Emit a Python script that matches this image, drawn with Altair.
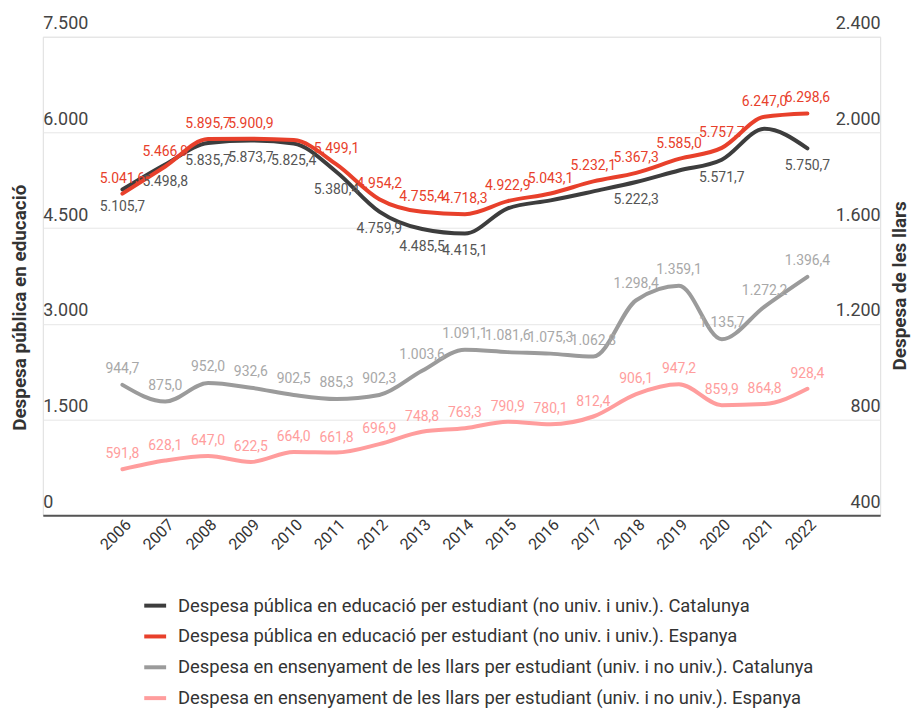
import altair as alt
import pandas as pd

years = list(range(2006, 2023))

cat_public = [5105.7, 5498.8, 5835.7, 5873.7, 5825.4, 5380.4, 4759.9, 4485.5, 4415.1,
              4810.0, 4935.0, 5076.0, 5222.3, 5403.0, 5571.7, 6058.0, 5750.7]
esp_public = [5041.6, 5466.9, 5895.7, 5900.9, 5880.0, 5499.1, 4954.2, 4755.4, 4718.3,
              4922.9, 5043.1, 5232.1, 5367.3, 5585.0, 5757.7, 6247.0, 6298.6]
cat_llars = [944.7, 875.0, 952.0, 932.6, 902.5, 885.3, 902.3, 1003.6, 1091.1,
             1081.6, 1075.3, 1062.8, 1298.4, 1359.1, 1135.7, 1272.2, 1396.4]
esp_llars = [591.8, 628.1, 647.0, 622.5, 664.0, 661.8, 696.9, 748.8, 763.3,
             790.9, 780.1, 812.4, 906.1, 947.2, 859.9, 864.8, 928.4]

# years whose value label is not shown in the original
cat_public_unlabeled = [2015, 2016, 2017, 2019, 2021]
esp_public_unlabeled = [2010]

series_names = [
    "Despesa pública en educació per estudiant (no univ. i univ.). Catalunya",
    "Despesa pública en educació per estudiant (no univ. i univ.). Espanya",
    "Despesa en ensenyament de les llars per estudiant (univ. i no univ.). Catalunya",
    "Despesa en ensenyament de les llars per estudiant (univ. i no univ.). Espanya",
]
series_colors = ["#3d3d3d", "#e8402b", "#9b9b9b", "#ff9d9d"]
label_colors = ["#555555", "#e8402b", "#a8a8a8", "#ff9d9d"]

left_ticks = [0, 1500, 3000, 4500, 6000, 7500]
right_ticks = [400, 800, 1200, 1600, 2000, 2400]


def fmt(v):
    s = f"{v:,.1f}"
    return s.replace(",", "X").replace(".", ",").replace("X", ".")


def make_df(name, values, unlabeled):
    return pd.DataFrame({
        "series": name,
        "year": years,
        "value": values,
        "label": [fmt(v) for v in values],
        "show": [y not in unlabeled for y in years],
    })


df_left = pd.concat([make_df(series_names[0], cat_public, cat_public_unlabeled),
                     make_df(series_names[1], esp_public, esp_public_unlabeled)])
df_right = pd.concat([make_df(series_names[2], cat_llars, []),
                      make_df(series_names[3], esp_llars, [])])

FONT = "Roboto"

x_enc = alt.X(
    "year:Q",
    scale=alt.Scale(domain=[2004.14, 2023.7], nice=False, zero=False),
    axis=alt.Axis(values=years, format="d", labelAngle=315, ticks=False, grid=False,
                  domainColor="#555555", domainWidth=2, labelFontSize=16,
                  labelColor="#333333", labelPadding=1, title=None, labelFont=FONT),
)

color_enc = alt.Color(
    "series:N",
    scale=alt.Scale(domain=series_names, range=series_colors),
    legend=alt.Legend(
        title=None, orient="none", legendX=100, legendY=559, direction="vertical",
        symbolType="stroke", symbolStrokeWidth=4, symbolSize=484,
        labelFontSize=18.5, labelColor="#333333", labelLimit=1000, rowPadding=8,
        labelFont=FONT, labelOffset=10,
    ),
)

y_left = alt.Y(
    "value:Q",
    scale=alt.Scale(domain=[0, 7500], nice=False, zero=False),
    axis=alt.Axis(values=left_ticks, orient="left", labelAlign="left", labelBaseline="bottom",
                  labelPadding=0, labelOffset=-4, ticks=False, domain=False, grid=True,
                  gridColor="#e6e6e6", labelFontSize=18, labelColor="#444444",
                  labelExpr="replace(format(datum.value, ','), ',', '.')",
                  title="Despesa pública en educació", titleFontSize=19, titleFontWeight="bold",
                  titleColor="#333333", titlePadding=13, titleY=272, labelFont=FONT, titleFont=FONT),
)

y_right = alt.Y(
    "value:Q",
    scale=alt.Scale(domain=[400, 2400], nice=False, zero=False),
    axis=alt.Axis(values=right_ticks, orient="right", labelAlign="right", labelBaseline="bottom",
                  labelPadding=0, labelOffset=-4, ticks=False, domain=False, grid=False,
                  labelFontSize=18, labelColor="#444444",
                  labelExpr="replace(format(datum.value, ','), ',', '.')",
                  title="Despesa de les llars", titleFontSize=19, titleFontWeight="bold",
                  titleColor="#333333", titlePadding=10, titleAngle=270, titleBaseline="top",
                  titleY=250, labelFont=FONT, titleFont=FONT),
)


def line_layer(base, name, y_enc):
    return base.transform_filter(alt.datum.series == name).mark_line(
        interpolate="monotone", strokeWidth=4, strokeCap="round"
    ).encode(x=x_enc, y=y_enc, color=color_enc)


def text_layer(base, name, y_enc, color, dy):
    return base.transform_filter(alt.datum.series == name).transform_filter(
        alt.datum.show
    ).mark_text(dy=dy, fontSize=14, color=color, font=FONT).encode(
        x=x_enc, y=y_enc, text="label:N"
    )


base_l = alt.Chart(df_left)
base_r = alt.Chart(df_right)

left = alt.layer(
    line_layer(base_l, series_names[0], y_left),
    line_layer(base_l, series_names[1], y_left),
    text_layer(base_l, series_names[0], y_left, label_colors[0], 18),
    text_layer(base_l, series_names[1], y_left, label_colors[1], -15),
)

right = alt.layer(
    line_layer(base_r, series_names[2], y_right),
    line_layer(base_r, series_names[3], y_right),
    text_layer(base_r, series_names[2], y_right, label_colors[2], -16),
    text_layer(base_r, series_names[3], y_right, label_colors[3], -15),
)

chart = alt.layer(left, right).resolve_scale(y="independent").properties(
    width=842, height=481,
    padding={"left": 3, "top": 5, "right": 3, "bottom": 0},
    background="white",
).configure_view(stroke=None).configure(font=FONT)

chart.save("out.html", embed_options={"renderer": "svg", "actions": False})
